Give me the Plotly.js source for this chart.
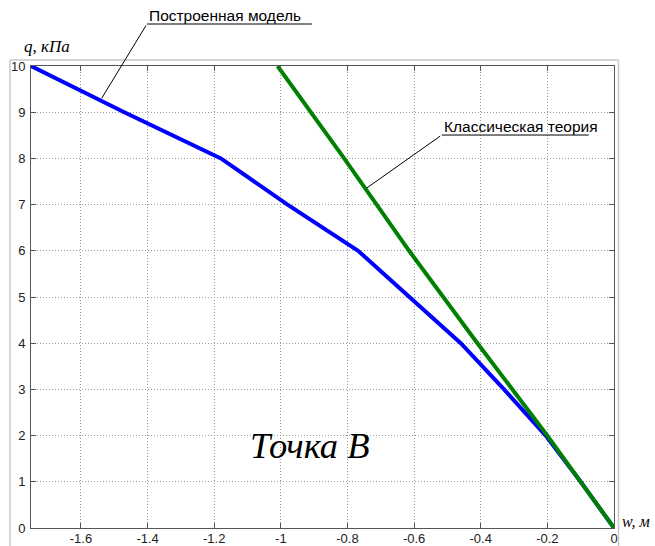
<!DOCTYPE html>
<html>
<head>
<meta charset="utf-8">
<script src="https://cdn.plot.ly/plotly-3.0.1.min.js"></script>
<style>html,body{margin:0;padding:0;background:#fff;}#chart{width:655px;height:546px;}</style>
</head>
<body>
<div id="chart"></div>
<script>
// Data
const modelW = [-1.75, -1.47, -1.18, -0.98, -0.768, -0.614, -0.46, -0.33, -0.205, -0.1, 0];
const modelQ = [10, 9, 8, 7, 6, 5, 4, 3, 2, 1, 0];
const classicW = [-1.01, -0.81, -0.615, -0.41, -0.2, 0];
const classicQ = [10, 8, 6, 4, 2, 0];

const xTickVals = [-1.6, -1.4, -1.2, -1.0, -0.8, -0.6, -0.4, -0.2, 0];
const xTickText = ['-1.6', '-1.4', '-1.2', '-1', '-0.8', '-0.6', '-0.4', '-0.2', '0'];
const yTickVals = [0, 1, 2, 3, 4, 5, 6, 7, 8, 9, 10];
const yTickText = ['0', '1', '2', '3', '4', '5', '6', '7', '8', '9', '10'];

const modelLabel = 'Построенная модель';
const classicLabel = 'Классическая теория';
const pointLabel = 'Точка B';
const yLabel = 'q, кПа';
const xLabel = 'w, м';

// points on the curves where the label leaders touch
const modelLeaderPt = [-1.538, 9.30];
const classicLeaderPt = [-0.742, 7.36];

const traces = [
  {x: modelW, y: modelQ, type: 'scatter', mode: 'lines', line: {color: '#0000ff', width: 4}, hoverinfo: 'skip'},
  {x: classicW, y: classicQ, type: 'scatter', mode: 'lines', line: {color: '#008000', width: 4}, hoverinfo: 'skip'}
];

const axCommon = {
  showline: true, linecolor: '#555', linewidth: 1, mirror: 'ticks',
  ticks: 'inside', ticklen: 5, tickcolor: '#555', tickwidth: 1,
  showgrid: true, gridcolor: '#9a9a9a', griddash: '1px,2px', gridwidth: 1,
  zeroline: false, tickmode: 'array',
  tickfont: {family: 'Liberation Sans, Arial, sans-serif', size: 13, color: '#222'}
};

const frameColor = '#c8c8c8';
const sansFont = 'Liberation Sans, Arial, sans-serif';
const serifFont = 'Liberation Serif, Times New Roman, serif';
const layout = {
  width: 655, height: 546,
  margin: {l: 31, r: 41, t: 66, b: 18, pad: 0},
  paper_bgcolor: '#fff', plot_bgcolor: '#fff',
  showlegend: false,
  xaxis: Object.assign({}, axCommon, {range: [-1.75, 0], tickvals: xTickVals, ticktext: xTickText, ticklabelstandoff: -2}),
  yaxis: Object.assign({}, axCommon, {range: [0, 10], tickvals: yTickVals, ticktext: yTickText, ticklabelstandoff: 2}),
  shapes: [
    {type: 'line', xref: 'paper', yref: 'paper', x0: -0.036, x1: -0.036, y0: -0.05, y1: 1.013, line: {color: frameColor, width: 1.5}},
    {type: 'line', xref: 'paper', yref: 'paper', x0: -0.036, x1: 1.0077, y0: 1.013, y1: 1.013, line: {color: frameColor, width: 1.5}},
    {type: 'line', xref: 'paper', yref: 'paper', x0: 1.0077, x1: 1.0077, y0: -0.05, y1: 1.013, line: {color: frameColor, width: 1.5}},
    // label underlines
    {type: 'line', xref: 'paper', yref: 'paper', x0: 0.1989, x1: 0.4817, y0: 1.0909, y1: 1.0909, line: {color: '#000', width: 1}},
    {type: 'line', xref: 'paper', yref: 'paper', x0: 0.7046, x1: 0.9566, y0: 0.8506, y1: 0.8506, line: {color: '#000', width: 1}}
  ],
  annotations: [
    // leader lines from curve to label
    {x: modelLeaderPt[0], y: modelLeaderPt[1], xref: 'x', yref: 'y', ax: 45.3, ay: -74.3, text: '', showarrow: true, arrowhead: 0, arrowwidth: 1, arrowcolor: '#000', standoff: 0, startstandoff: 0},
    {x: classicLeaderPt[0], y: classicLeaderPt[1], xref: 'x', yref: 'y', ax: 75, ay: -53, text: '', showarrow: true, arrowhead: 0, arrowwidth: 1, arrowcolor: '#000', standoff: 0, startstandoff: 0},
    // label texts
    {x: 0.1989, y: 1.0909, xref: 'paper', yref: 'paper', text: modelLabel, showarrow: false, xanchor: 'left', yanchor: 'bottom', yshift: -2,
     font: {family: sansFont, size: 15.5, color: '#000'}},
    {x: 0.7046, y: 0.8506, xref: 'paper', yref: 'paper', text: classicLabel, showarrow: false, xanchor: 'left', yanchor: 'bottom', yshift: -2,
     font: {family: sansFont, size: 15.5, color: '#000'}},
    {x: 0.478, y: 0.178, xref: 'paper', yref: 'paper', text: '<i>' + pointLabel + '</i>', showarrow: false, xanchor: 'center', yanchor: 'middle',
     font: {family: serifFont, size: 36.5, color: '#000'}},
    {x: -0.0154, y: 1.042, xref: 'paper', yref: 'paper', text: '<i>' + yLabel + '</i>', showarrow: false, xanchor: 'left', yanchor: 'middle',
     font: {family: serifFont, size: 17, color: '#000'}},
    {x: 1.0098, y: 0.014, xref: 'paper', yref: 'paper', text: '<i>' + xLabel + '</i>', showarrow: false, xanchor: 'left', yanchor: 'middle',
     font: {family: serifFont, size: 16, color: '#000'}}
  ]
};

Plotly.newPlot('chart', traces, layout, {displayModeBar: false, staticPlot: true});
</script>
</body>
</html>
